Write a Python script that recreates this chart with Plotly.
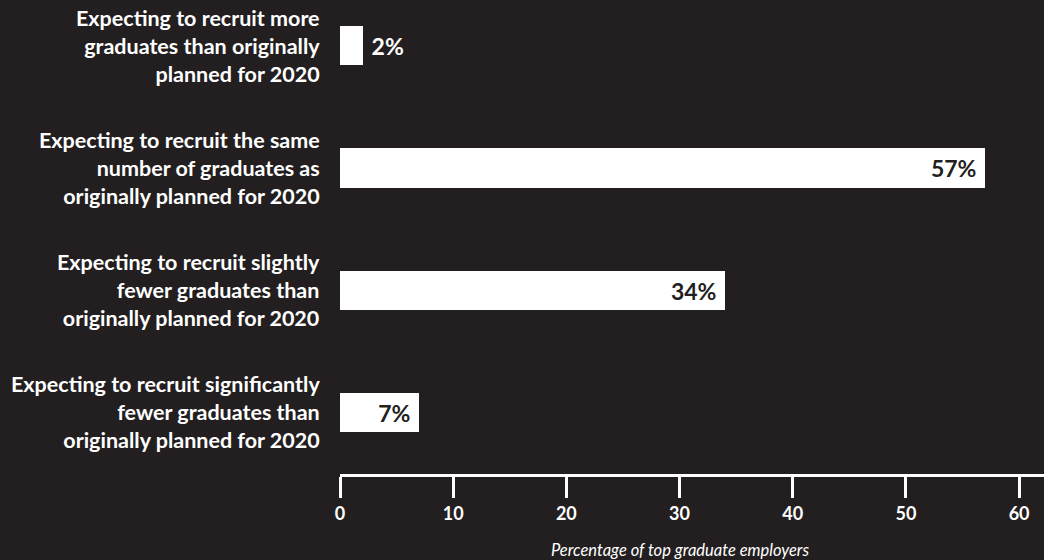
import plotly.graph_objects as go

categories = [
    "Expecting to recruit more<br>graduates than originally<br>planned for 2020",
    "Expecting to recruit the same<br>number of graduates as<br>originally planned for 2020",
    "Expecting to recruit slightly<br>fewer graduates than<br>originally planned for 2020",
    "Expecting to recruit significantly<br>fewer graduates than<br>originally planned for 2020",
]
values = [2, 57, 34, 7]
value_labels = ["2%", "57%", "34%", "7%"]
tick_values = [0, 10, 20, 30, 40, 50, 60]
axis_title = "Percentage of top graduate employers"

BG = "#231f20"
FONT = "Lato"
NB = "\u00a0"

positions = list(range(len(categories)))
text_pos = ["outside" if v < 5 else "inside" for v in values]
shown_text = [(NB + t) if tp == "outside" else (t + NB) for t, tp in zip(value_labels, text_pos)]

fig = go.Figure(
    go.Bar(
        x=values,
        y=positions,
        orientation="h",
        width=0.32,
        marker=dict(color="white", line=dict(width=0)),
        text=shown_text,
        textposition=text_pos,
        insidetextanchor="end",
        textangle=0,
        insidetextfont=dict(color=BG, size=23, family=FONT, weight="bold"),
        outsidetextfont=dict(color="white", size=23, family=FONT, weight="bold"),
        cliponaxis=False,
        hoverinfo="skip",
    )
)

for p, c in zip(positions, categories):
    fig.add_annotation(
        x=0, xref="paper", xshift=-18, y=p, yref="y",
        text=c, showarrow=False, xanchor="right", yanchor="middle", align="right",
        font=dict(color="white", size=21.5, family=FONT, weight="bold"),
    )

fig.add_annotation(
    x=30, xref="x", y=0, yref="paper", yshift=-76, yanchor="middle",
    text=axis_title, showarrow=False,
    font=dict(color="white", size=16.5, family=FONT, style="italic"),
)

fig.update_layout(
    width=1044, height=560,
    paper_bgcolor=BG, plot_bgcolor=BG,
    margin=dict(l=340, r=0, t=8, b=86),
    showlegend=False,
    bargap=0,
    uniformtext=dict(mode=False),
)
fig.update_xaxes(
    range=[0, 62.2], tickvals=tick_values, showgrid=False, zeroline=False,
    showline=True, linecolor="white", linewidth=3,
    ticks="outside", ticklen=21, tickwidth=3, tickcolor="white",
    tickfont=dict(color="white", size=18, family=FONT, weight="bold"),
    fixedrange=True,
)
fig.update_yaxes(
    range=[3.505, -0.31], showticklabels=False, showgrid=False, zeroline=False,
    showline=False, ticks="", fixedrange=True,
)

fig.write_html(
    "out.html",
    config={"displayModeBar": False},
    post_script="document.body.style.margin='0';document.body.style.background='%s';" % BG,
)
